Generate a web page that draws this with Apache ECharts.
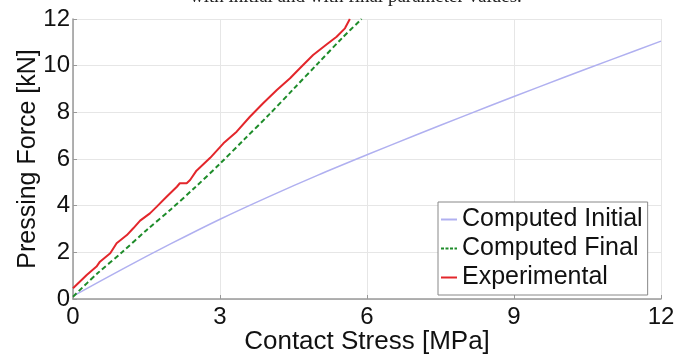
<!DOCTYPE html>
<html>
<head>
<meta charset="utf-8">
<script src="https://cdn.jsdelivr.net/npm/echarts@6/dist/echarts.min.js"></script>
<style>
    html, body { margin: 0; padding: 0; background: #fff; }
    #chart { width: 676px; height: 356px; }
</style>
</head>
<body>
<div id="chart"></div>
<script>
// values
const xTicks = [0, 3, 6, 9, 12];
const yTicks = [0, 2, 4, 6, 8, 10, 12];

const initialX = [0, 1, 2, 3, 4, 5, 6, 7, 8, 9, 10, 11, 12];
const initialY = [0.12, 1.27, 2.37, 3.42, 4.39, 5.31, 6.18, 7.03, 7.86, 8.68, 9.48, 10.27, 11.05];

const finalX = [0, 0.5, 1, 1.5, 2, 2.5, 3, 3.5, 4, 4.5, 5, 5.5, 5.89];
const finalY = [0.1, 1.1, 2.0, 2.95, 3.85, 4.8, 5.8, 6.85, 7.9, 9.0, 10.1, 11.2, 12];

const expX = [0, 0.28, 0.48, 0.55, 0.76, 0.89, 1.10, 1.23, 1.37, 1.57, 1.71, 1.91, 2.12, 2.18, 2.32,
    2.39, 2.52, 2.80, 3.07, 3.34, 3.61, 3.88, 4.16, 4.43, 4.63, 4.90, 5.18, 5.38, 5.55, 5.65];
const expY = [0.46, 1.03, 1.39, 1.6, 1.96, 2.39, 2.74, 3.03, 3.36, 3.67, 3.96, 4.38, 4.81, 4.96, 4.96,
    5.10, 5.50, 6.05, 6.67, 7.17, 7.81, 8.39, 8.96, 9.46, 9.89, 10.46, 10.92, 11.24, 11.6, 12.0];

const zip = (xs, ys) => xs.map((x, i) => [x, ys[i]]);

const font = 'Liberation Sans, Arial, sans-serif';

// legend icons: thin line, dashed one for the final curve
const solidIcon = 'path://M0,6L16,6L16,8L0,8Z';
const dashIcon = 'path://M0,6h3v2h-3zM4.5,6h3v2h-3zM9,6h3v2h-3zM13.5,6h2.5v2h-2.5z';

const axisCommon = {
    type: 'value',
    nameLocation: 'middle',
    nameMoveOverlap: false,
    axisLine: { show: true, lineStyle: { color: '#999', width: 1.5 } },
    axisTick: { show: true, inside: true, length: 4, lineStyle: { color: '#999' } },
    axisLabel: { fontFamily: font, fontSize: 24, color: '#111' },
    splitLine: { show: true, lineStyle: { color: '#e6e6e6', width: 1 } }
};

let option = {
    animation: false,
    backgroundColor: '#fff',
    grid: { left: 73, right: 15, top: 19, bottom: 57, containLabel: false, outerBoundsMode: 'none' },
    graphic: [{
        type: 'text',
        left: 190,
        top: -12,
        style: {
            text: 'with initial and with final parameter values.',
            font: '19px "Liberation Serif", serif',
            fill: '#222'
        }
    }],
    legend: {
        orient: 'vertical',
        left: 438,
        top: 202,
        padding: [5, 5, 5, 3],
        itemGap: 4,
        itemWidth: 16,
        itemHeight: 14,
        symbolKeepAspect: true,
        backgroundColor: '#fff',
        borderColor: '#888',
        borderWidth: 1,
        borderRadius: 0,
        textStyle: { fontFamily: font, fontSize: 25, color: '#111' },
        data: [
            { name: 'Computed Initial', icon: solidIcon },
            { name: 'Computed Final', icon: dashIcon },
            { name: 'Experimental', icon: solidIcon }
        ]
    },
    xAxis: Object.assign({}, axisCommon, {
        name: 'Contact Stress [MPa]',
        nameGap: 30,
        nameTextStyle: { fontFamily: font, fontSize: 26, color: '#111' },
        min: xTicks[0],
        max: xTicks[xTicks.length - 1],
        interval: 3,
        axisLabel: Object.assign({}, axisCommon.axisLabel, { margin: 6 })
    }),
    yAxis: Object.assign({}, axisCommon, {
        name: 'Pressing Force [kN]',
        nameGap: 32,
        nameTextStyle: { fontFamily: font, fontSize: 25, color: '#111' },
        min: yTicks[0],
        max: yTicks[yTicks.length - 1],
        interval: 2,
        axisLabel: Object.assign({}, axisCommon.axisLabel, { margin: 3 })
    }),
    series: [
        {
            name: 'Computed Initial',
            type: 'line',
            symbol: 'none',
            smooth: 0.3,
            color: '#b0b0f0',
            lineStyle: { width: 1.5, color: '#b0b0f0' },
            data: zip(initialX, initialY)
        },
        {
            name: 'Computed Final',
            type: 'line',
            symbol: 'none',
            smooth: 0.3,
            color: '#1e8c2a',
            lineStyle: { width: 2, color: '#1e8c2a', type: [5, 3] },
            data: zip(finalX, finalY)
        },
        {
            name: 'Experimental',
            type: 'line',
            symbol: 'none',
            color: '#e3262b',
            lineStyle: { width: 2, color: '#e3262b' },
            data: zip(expX, expY)
        }
    ]
};

let myChart = echarts.init(document.getElementById('chart'));
myChart.setOption(option);
</script>
</body>
</html>
